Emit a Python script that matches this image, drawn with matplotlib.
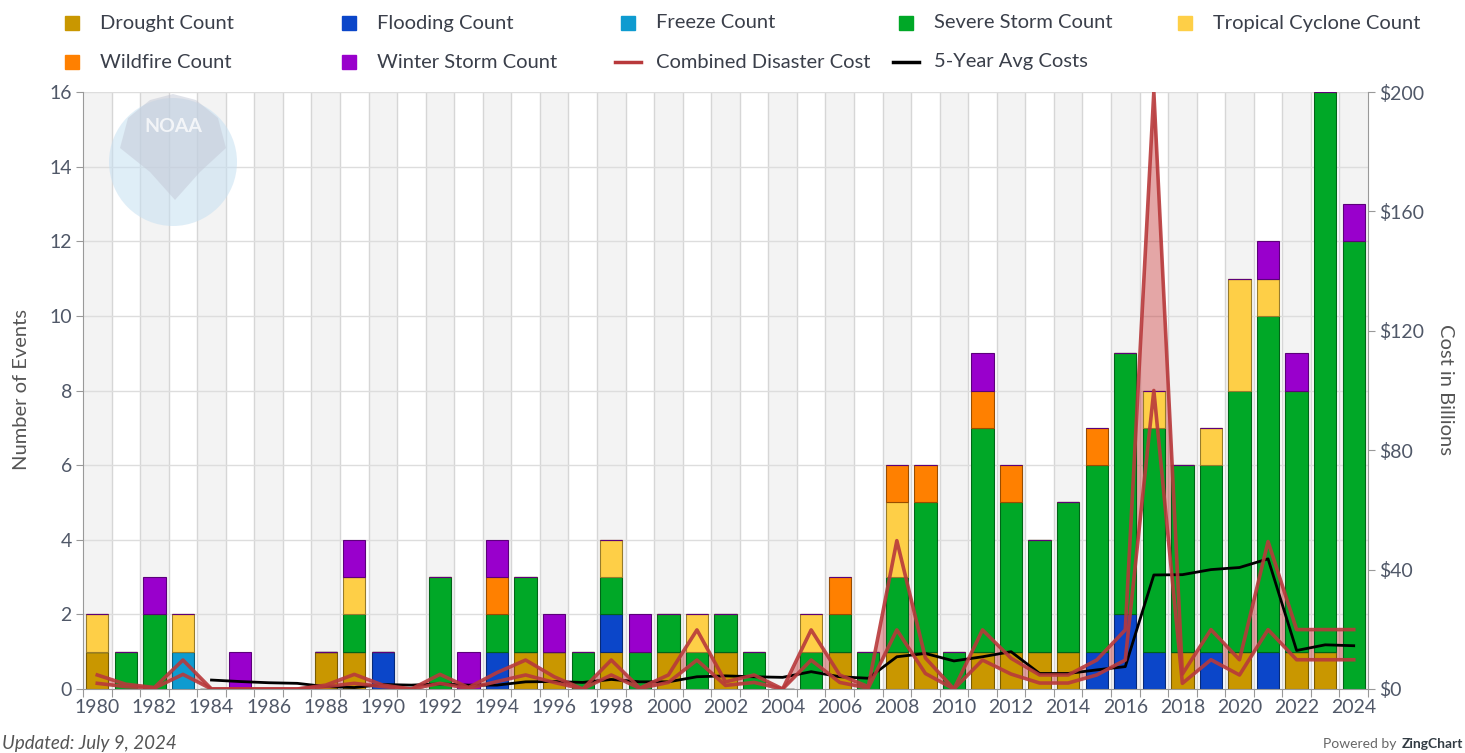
import numpy as np
import matplotlib.pyplot as plt
from matplotlib.lines import Line2D
from matplotlib.patches import Ellipse, Polygon
from matplotlib import colors as mcolors

plt.rcParams['font.family'] = ['Lato', 'DejaVu Sans']

# yearly counts of billion-dollar events, 1980-2024
years = np.arange(1980, 2025)
drought = [1, 0, 0, 0, 0, 0, 0, 0, 1, 1,
           0, 0, 0, 0, 0, 1, 1, 0, 1, 0,
           1, 0, 1, 0, 0, 0, 1, 0, 1, 1,
           0, 1, 1, 1, 1, 0, 0, 0, 1, 0,
           1, 0, 1, 1, 0]
flooding = [0, 0, 0, 0, 0, 0, 0, 0, 0, 0,
            1, 0, 0, 0, 1, 0, 0, 0, 1, 0,
            0, 0, 0, 0, 0, 0, 0, 0, 0, 0,
            0, 0, 0, 0, 0, 1, 2, 1, 0, 1,
            0, 1, 0, 0, 0]
freeze = [0, 0, 0, 1, 0, 0, 0, 0, 0, 0,
          0, 0, 0, 0, 0, 0, 0, 0, 0, 0,
          0, 0, 0, 0, 0, 0, 0, 0, 0, 0,
          0, 0, 0, 0, 0, 0, 0, 0, 0, 0,
          0, 0, 0, 0, 0]
severe = [0, 1, 2, 0, 0, 0, 0, 0, 0, 1,
          0, 0, 3, 0, 1, 2, 0, 1, 1, 1,
          1, 1, 1, 1, 0, 1, 1, 1, 2, 4,
          1, 6, 4, 3, 4, 5, 7, 6, 5, 5,
          7, 9, 7, 15, 12]
tropical = [1, 0, 0, 1, 0, 0, 0, 0, 0, 1,
            0, 0, 0, 0, 0, 0, 0, 0, 1, 0,
            0, 1, 0, 0, 0, 1, 0, 0, 2, 0,
            0, 0, 0, 0, 0, 0, 0, 1, 0, 1,
            3, 1, 0, 0, 0]
wildfire = [0, 0, 0, 0, 0, 0, 0, 0, 0, 0,
            0, 0, 0, 0, 1, 0, 0, 0, 0, 0,
            0, 0, 0, 0, 0, 0, 1, 0, 1, 1,
            0, 1, 1, 0, 0, 1, 0, 0, 0, 0,
            0, 0, 0, 0, 0]
winter = [0, 0, 1, 0, 0, 1, 0, 0, 0, 1,
          0, 0, 0, 1, 1, 0, 1, 0, 0, 1,
          0, 0, 0, 0, 0, 0, 0, 0, 0, 0,
          0, 1, 0, 0, 0, 0, 0, 0, 0, 0,
          0, 1, 1, 0, 1]

# cost range in billions (low / high) and 5-year average
cost_low = [1.9, 0.8, 0.3, 4.9, 0, 0, 0, 0, 0.8, 1.9,
            0.8, 0, 1.9, 0.2, 2.5, 4.7, 2.2, 0, 4.7, 0.2,
            2.2, 9.7, 1.2, 2.2, 0, 9.7, 2.2, 0.3, 19.8, 5.2,
            0, 9.7, 5.0, 2.0, 2.0, 4.7, 9.7, 100, 1.9, 9.8,
            4.7, 19.9, 9.8, 9.8, 9.8]
cost_high = [4.7, 1.6, 0.5, 9.7, 0, 0, 0, 0, 1.3, 4.9,
             1.3, 0, 4.9, 0.5, 5.5, 9.7, 4.1, 0, 9.7, 0.3,
             4.7, 19.8, 2.4, 4.7, 0, 19.8, 4.7, 0.8, 49.7, 10.4,
             0, 19.8, 10.3, 4.7, 4.7, 9.7, 19.8, 200, 5.0, 19.9,
             9.8, 49.4, 19.9, 19.9, 19.9]
avg5 = [np.nan, np.nan, np.nan, np.nan, 3.0, 2.5, 2.1, 1.9, 0.8, 0.5,
        1.5, 1.3, 1.7, 1.3, 1.3, 2.4, 2.5, 2.2, 3.2, 2.4,
        2.4, 4.1, 4.4, 4.1, 3.9, 5.8, 4.1, 3.6, 10.8, 11.9,
        9.4, 10.8, 12.5, 5.2, 5.2, 6.4, 7.5, 38.2, 38.3, 40.0,
        40.7, 43.6, 12.9, 14.8, 14.5]

series = [('Drought Count', drought, '#c99700'),
          ('Flooding Count', flooding, '#0b46c9'),
          ('Freeze Count', freeze, '#0e9bd0'),
          ('Severe Storm Count', severe, '#00a827'),
          ('Tropical Cyclone Count', tropical, '#fecf47'),
          ('Wildfire Count', wildfire, '#ff8000'),
          ('Winter Storm Count', winter, '#9900cc')]
cost_color = '#b8393b'
text_color = '#505868'

W, H = 1465, 753
fig = plt.figure(figsize=(W / 100, H / 100), dpi=100)


def fx(px):
    return px / W


def fy(py):
    return 1 - py / H


ax = fig.add_axes([fx(83), fy(689), fx(1368) - fx(83), fy(92) - fy(689)])
ax2 = ax.twinx()
ax.set_xlim(1979.5, 2024.5)
ax.set_ylim(0, 16)
ax2.set_ylim(0, 200)

# alternating column bands and grid
for y in years:
    if y % 2 == 0:
        ax.axvspan(y - 0.5, y + 0.5, color='#f3f3f3', lw=0, zorder=0)
for b in np.arange(1980.5, 2024.5):
    ax.axvline(b, color='#d6d6d6', lw=1, zorder=0.5)
for g in range(2, 17, 2):
    ax.axhline(g, color='#dddddd', lw=1, zorder=0.5)

# cost range (behind bars)
ax.fill_between(years, cost_low, cost_high, transform=ax2.transData,
                color='#c43b3b', alpha=0.45, lw=0, zorder=1)

bottom = np.zeros(len(years))
for name, vals, col in series:
    edge = np.array(mcolors.to_rgb(col)) * 0.6
    ax.bar(years, vals, 0.78, bottom=bottom, color=col, edgecolor=edge,
           linewidth=0.8, zorder=2)
    bottom += np.array(vals)

ax.plot(years, avg5, color='black', lw=2, transform=ax2.transData, zorder=3)
ax.plot(years, cost_high, color=cost_color, lw=2.6, alpha=0.9,
        transform=ax2.transData, zorder=4)
ax.plot(years, cost_low, color=cost_color, lw=2.6, alpha=0.9,
        transform=ax2.transData, zorder=4)

# axes styling
ax.set_xticks(np.arange(1979.5, 2025))
ax.set_xticklabels([])
ax.set_xticks(np.arange(1980, 2025, 2), minor=True)
ax.set_xticklabels([str(y) for y in range(1980, 2025, 2)], minor=True)
ax.tick_params(axis='x', which='major', length=6, color='#999999')
ax.tick_params(axis='x', which='minor', length=0, pad=7, labelsize=14,
               labelcolor=text_color)
ax.set_yticks(range(0, 17, 2))
ax.tick_params(axis='y', length=5, color='#999999', labelsize=14,
               labelcolor=text_color, pad=3)
ax2.set_yticks(range(0, 201, 40))
ax2.set_yticklabels(['$' + str(v) for v in range(0, 201, 40)])
ax2.tick_params(axis='y', length=5, color='#999999', labelsize=14,
                labelcolor=text_color, pad=3)
for a in (ax, ax2):
    for s in a.spines.values():
        s.set_visible(False)
ax.spines['left'].set_visible(True)
ax.spines['left'].set_color('#999999')
ax.spines['bottom'].set_visible(True)
ax.spines['bottom'].set_color('#999999')
ax2.spines['right'].set_visible(True)
ax2.spines['right'].set_color('#999999')

fig.text(fx(22), fy(390), 'Number of Events', rotation=90, ha='center',
         va='center', fontsize=14.5, color='#555555')
fig.text(fx(1445), fy(390), 'Cost in Billions', rotation=270, ha='center',
         va='center', fontsize=14.5, color='#555555')

# legend
leg = [(name, col, 'square') for name, _, col in series]
leg += [('Combined Disaster Cost', cost_color, 'line'),
        ('5-Year Avg Costs', 'black', 'line')]
cols_x = [72, 349, 628, 906, 1185]
rows_y = [23, 62]
for i, (name, col, kind) in enumerate(leg):
    x = cols_x[i % 5]
    y = rows_y[i // 5]
    if kind == 'square':
        fig.add_artist(Line2D([fx(x)], [fy(y)], marker='s', markersize=10,
                              color=col, lw=0, transform=fig.transFigure))
    else:
        fig.add_artist(Line2D([fx(x - 13), fx(x + 13)], [fy(y), fy(y)],
                              color=col, lw=2.5, transform=fig.transFigure))
    fig.text(fx(x + 28), fy(y), name, va='center', fontsize=14.5,
             color='#3a3f4a')

# faded NOAA watermark
fig.add_artist(Ellipse((fx(173), fy(162)), 128 / W, 128 / H,
                       color='#c6e0f2', alpha=0.55, lw=0, zorder=5))
cap = [(120, 148), (128, 118), (150, 100), (173, 94), (196, 100),
       (218, 118), (226, 148), (200, 172), (175, 200), (150, 172)]
fig.add_artist(Polygon([(fx(a), fy(b)) for a, b in cap], closed=True,
                       color='#c3c8d6', alpha=0.5, lw=0, zorder=5))
fig.text(fx(173), fy(126), 'NOAA', ha='center', va='center', fontsize=14,
         fontweight='bold', color='white', alpha=0.75, zorder=6)

fig.text(fx(2), fy(743), 'Updated: July 9, 2024', style='italic',
         fontsize=13.5, color='#555555', va='center')
fig.text(fx(1463), fy(744), 'ZingChart', ha='right', va='center',
         fontsize=10, fontweight='bold', color='#333c44')
fig.text(fx(1400), fy(744), 'Powered by ', ha='right', va='center',
         fontsize=10, color='#666666')

fig.savefig('out.png', dpi=100)
